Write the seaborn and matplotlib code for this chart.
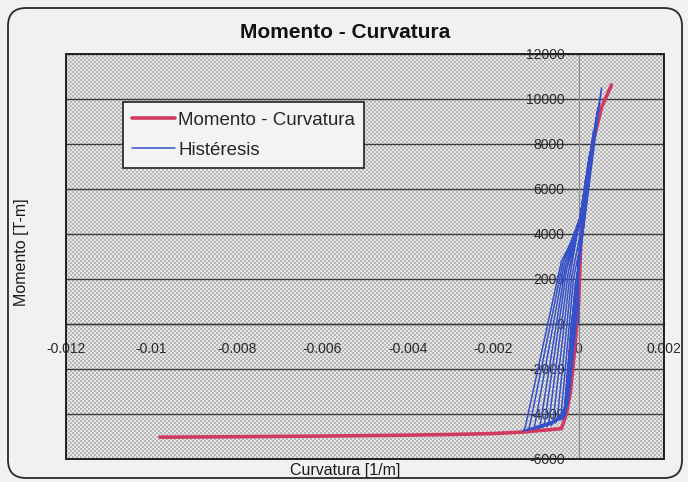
import matplotlib
matplotlib.use("Agg")
import matplotlib.pyplot as plt
from matplotlib.patches import Rectangle, FancyBboxPatch
from matplotlib.transforms import IdentityTransform
import numpy as np
import seaborn as sns
import pandas as pd

# Moment-curvature envelope (curvature in 1/m, moment in T-m)
mc_curvature = [-0.0098, -0.008, -0.006, -0.004, -0.003, -0.002, -0.0013, -0.0004,
                -0.00028, -0.00019, -0.0001, 0.0, 0.00007, 0.00019, 0.00035,
                0.00054, 0.00077]
mc_moment = [-5030, -5010, -4980, -4940, -4910, -4870, -4800, -4650,
             -3960, -3000, -1300, 900, 4490, 6400, 8180, 9640, 10620]

# Cyclic (hysteresis) response path, cycle by cycle:
# peak (+), unloading, negative peak, reloading
hyst_curvature = [
    0.0,
    0.0, -0.00006, -0.00022, -0.00035, -0.00031, -0.00008,
    0.00002, -0.00008, -0.00025, -0.00045, -0.00041, -0.00012,
    0.00005, -0.0001, -0.00027, -0.00055, -0.0005, -0.00016,
    0.00008, -0.00011, -0.00029, -0.00065, -0.0006, -0.0002,
    0.00011, -0.00012, -0.0003, -0.00075, -0.0007, -0.00024, 0.00002,
    0.00017, -0.00013, -0.00031, -0.00085, -0.0008, -0.00028, 0.00003,
    0.00025, -0.00014, -0.00032, -0.00095, -0.0009, -0.00031, 0.00003,
    0.00035, -0.00015, -0.00033, -0.00108, -0.00103, -0.00034, 0.00003,
    0.00045, -0.00016, -0.00034, -0.0012, -0.00115, -0.00037, 0.00003,
    0.00054, -0.00017, -0.00035, -0.0013, -0.00125, -0.0004, 0.00001,
]
hyst_moment = [
    0,
    2000, 0, -3200, -3800, -3650, 1800,
    2800, 0, -3500, -4200, -4050, 2000,
    3600, 0, -3700, -4400, -4250, 2100,
    4400, 0, -3800, -4500, -4350, 2200,
    5500, 0, -3900, -4550, -4400, 2300, 4500,
    6500, 0, -4000, -4600, -4450, 2400, 4600,
    7500, 0, -4050, -4650, -4500, 2500, 4600,
    8600, 0, -4100, -4700, -4550, 2600, 4700,
    9600, 0, -4150, -4720, -4580, 2700, 4700,
    10500, 0, -4200, -4750, -4600, 2800, 4300,
]

x_ticks = [-0.012, -0.01, -0.008, -0.006, -0.004, -0.002, 0, 0.002]
x_tick_labels = ["-0.012", "-0.01", "-0.008", "-0.006", "-0.004", "-0.002", "0", "0.002"]
y_ticks = [-6000, -4000, -2000, 0, 2000, 4000, 6000, 8000, 10000, 12000]

mc_df = pd.DataFrame({"curv": mc_curvature, "mom": mc_moment})
hy_df = pd.DataFrame({"curv": hyst_curvature, "mom": hyst_moment})

sns.set_style("white")
plt.rcParams["font.family"] = ["Liberation Sans", "DejaVu Sans"]

fig = plt.figure(figsize=(6.88, 4.82), dpi=100, facecolor="#f1f1ef")
ax = fig.add_axes([66 / 688, 1 - 459 / 482, 598 / 688, 405 / 482])

# stippled plot-area fill (small checker of grey dots)
rows, cols = 405, 598
rr, cc = np.mgrid[0:rows, 0:cols]
stipple = np.where(((rr // 2) + (cc // 2)) % 2 == 0, 0.72, 0.90)
ax.imshow(stipple, cmap="gray", vmin=0, vmax=1, interpolation="nearest",
          extent=(0, 1, 0, 1), transform=ax.transAxes, aspect="auto", zorder=0.1)

red = "#d23a62"
blue = "#3550c8"
sns.lineplot(data=mc_df, x="curv", y="mom", sort=False, estimator=None, ax=ax,
             color=red, linewidth=2.6, label="Momento - Curvatura", zorder=4)
sns.lineplot(data=hy_df, x="curv", y="mom", sort=False, estimator=None, ax=ax,
             color=blue, linewidth=1.1, label="Histéresis", zorder=5)

ax.set_xlim(-0.012, 0.002)
ax.set_ylim(-6000, 12000)
ax.set_xticks(x_ticks)
ax.set_xticklabels(x_tick_labels)
ax.set_yticks(y_ticks)
ax.set_yticklabels([str(v) for v in y_ticks])

# axes cross at the origin
ax.spines["left"].set_position(("data", 0))
ax.spines["bottom"].set_position(("data", 0))
ax.spines["left"].set_color("#8a8a8a")
ax.spines["left"].set_linewidth(0.9)
ax.spines["bottom"].set_color("#3a3a3a")
ax.spines["bottom"].set_linewidth(1.0)
for s in ("top", "right"):
    ax.spines[s].set_visible(False)
ax.add_patch(Rectangle((0, 0), 1, 1, transform=ax.transAxes, fill=False,
                       edgecolor="#202020", linewidth=1.4, zorder=6, clip_on=False))

ax.yaxis.grid(True, color="#3a3a3a", linewidth=1.0)
ax.xaxis.grid(False)
ax.set_axisbelow(True)
ax.tick_params(axis="both", length=0, labelsize=10, labelcolor="#2a2a2a")
ax.tick_params(axis="x", pad=13)
ax.tick_params(axis="y", pad=10)

ax.set_xlabel("")
ax.set_ylabel("")
fig.text(345 / 688, 1 - 470 / 482, "Curvatura [1/m]", ha="center", va="center",
         fontsize=11.5, color="#1a1a1a")
fig.text(22 / 688, 1 - 252 / 482, "Momento [T-m]", ha="center", va="center",
         rotation=90, fontsize=11.5, color="#1a1a1a")
fig.text(345 / 688, 1 - 33 / 482, "Momento - Curvatura", ha="center", va="center",
         fontsize=15, fontweight="bold", color="#111111")

leg = ax.legend(loc="upper left", bbox_to_anchor=(0.095, 0.881), borderaxespad=0,
                fontsize=13.5, frameon=True, fancybox=False, handlelength=2.3,
                handletextpad=0.15, labelspacing=0.7, borderpad=0.5)
leg.get_frame().set_edgecolor("#202020")
leg.get_frame().set_facecolor("#f3f3f1")
leg.get_frame().set_alpha(1)
leg.get_frame().set_linewidth(1.2)
leg.set_zorder(7)

# rounded outer frame
fig.add_artist(FancyBboxPatch((8, 4), 674, 470,
                              boxstyle="round,pad=0,rounding_size=18",
                              transform=IdentityTransform(), fill=False,
                              edgecolor="#2a2a2a", linewidth=1.3))

fig.savefig("out.png", dpi=100, facecolor=fig.get_facecolor())
